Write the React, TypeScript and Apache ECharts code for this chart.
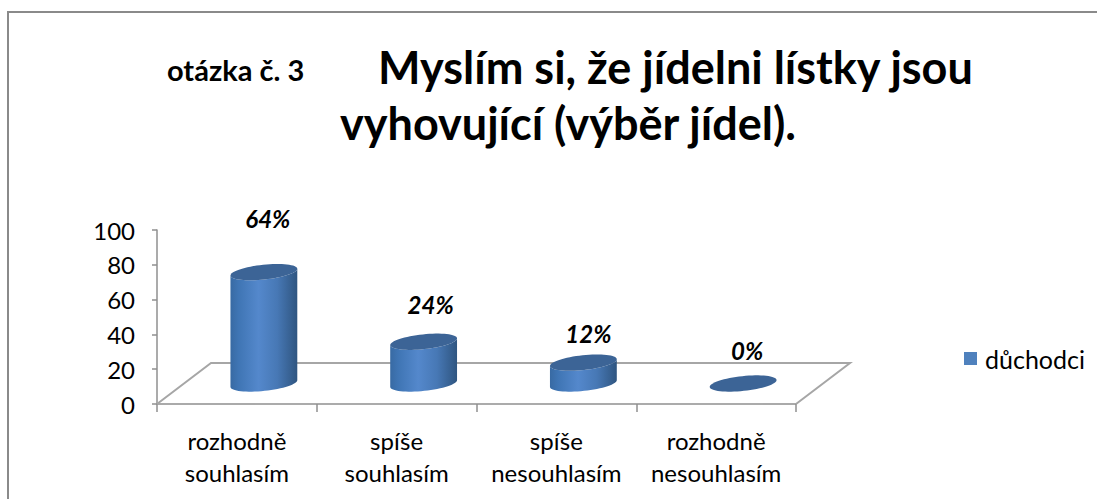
import React, { useEffect, useRef } from "react";
import * as echarts from "echarts";

const categories = ["rozhodně\nsouhlasím", "spíše\nsouhlasím", "spíše\nnesouhlasím", "rozhodně\nnesouhlasím"];
const values = [64, 24, 12, 0];
const valueLabels = ["64%", "24%", "12%", "0%"];
const seriesName = "důchodci";
const titleSmall = "otázka č. 3";
const titleLine1 = "Myslím si, že jídelni lístky jsou";
const titleLine2 = "vyhovující (výběr jídel).";
const yMax = 100;
const yInterval = 20;

const FONT = "Lato, 'Noto Sans', sans-serif";
const AXIS_GRAY = "#8f8f8f";
const DEPTH_X = 54;
const DEPTH_Y = 41;
const labelShift: [number, number][] = [[4, -54], [7, -37], [5, -29], [4, -33]];

// outline of a tilted ellipse, from the left tip to the right tip; side 1 = front (lower), -1 = back (upper)
function arcPoints(cx: number, cy: number, side: number) {
  const a = 33.6;
  const b = 7.4;
  const rad = (-6 * Math.PI) / 180;
  const pts: number[][] = [];
  for (let k = 0; k <= 32; k++) {
    const t = Math.PI - (k / 32) * Math.PI;
    const ex = a * Math.cos(t);
    const ey = side * b * Math.sin(t);
    pts.push([cx + ex * Math.cos(rad) - ey * Math.sin(rad), cy + ex * Math.sin(rad) + ey * Math.cos(rad)]);
  }
  return pts;
}

export default function App() {
  const ref = useRef<HTMLDivElement>(null);
  useEffect(() => {
    const chart = echarts.init(ref.current!, null, { renderer: "svg" });
    const bodyFill = {
      type: "linear", x: 0, y: 0, x2: 1, y2: 0,
      colorStops: [
        { offset: 0, color: "#386aa3" },
        { offset: 0.12, color: "#3f75b4" },
        { offset: 0.42, color: "#5488cc" },
        { offset: 0.7, color: "#4778b5" },
        { offset: 1, color: "#2f5580" },
      ],
    };
    chart.setOption({
      animation: false,
      backgroundColor: "#fff",
      title: [
        { text: titleSmall, left: 162, top: 50, textStyle: { fontFamily: FONT, fontSize: 29, fontWeight: "bold", color: "#000" } },
        { text: titleLine1, left: 373, top: 39, textStyle: { fontFamily: FONT, fontSize: 45, fontWeight: "bold", color: "#000" } },
        { text: titleLine2, left: 335, top: 95, textStyle: { fontFamily: FONT, fontSize: 45, fontWeight: "bold", color: "#000" } },
      ],
      legend: {
        left: 959, top: 341, itemWidth: 13, itemHeight: 13, itemGap: 0,
        icon: "rect",
        data: [seriesName],
        textStyle: { fontFamily: FONT, fontSize: 25, color: "#000", padding: [0, 0, 3, 3] },
      },
      grid: { left: 157, right: 301, top: 230, bottom: 95 },
      xAxis: {
        type: "category",
        data: categories,
        axisLine: { lineStyle: { color: AXIS_GRAY, width: 1.5 } },
        axisTick: { show: true, length: 8, alignWithLabel: false, lineStyle: { color: AXIS_GRAY, width: 1.5 } },
        axisLabel: { interval: 0, fontFamily: FONT, fontSize: 24, color: "#000", lineHeight: 32, margin: 20 },
      },
      yAxis: {
        type: "value",
        min: 0, max: yMax, interval: yInterval,
        splitLine: { show: false },
        axisLine: { show: true, lineStyle: { color: AXIS_GRAY, width: 1.5 } },
        axisTick: { show: true, length: 5, lineStyle: { color: AXIS_GRAY, width: 1.5 } },
        axisLabel: { fontFamily: FONT, fontSize: 24, color: "#000", margin: 22 },
      },
      graphic: [
        { type: "polyline", silent: true, z: -1, shape: { points: [[8, 499], [8, 12], [1097, 12]] }, style: { stroke: "#8a8a8a", lineWidth: 2, fill: "none" } },
      ],
      series: [
        {
          type: "custom",
          name: "floor",
          silent: true,
          z: 1,
          data: [[0, 0]],
          encode: { x: 0, y: 1 },
          renderItem: (_p: any, api: any) => {
            const o = api.coord([0, 0]);
            const band = api.size([1, 0])[0];
            const x0 = o[0] - band / 2;
            const x1 = x0 + band * categories.length;
            return {
              type: "polyline",
              shape: { points: [[x0, o[1]], [x0 + DEPTH_X, o[1] - DEPTH_Y], [x1 + DEPTH_X, o[1] - DEPTH_Y], [x1, o[1]]] },
              style: { stroke: "#a6a6a6", lineWidth: 2, fill: "none" },
            };
          },
        },
        {
          type: "custom",
          name: seriesName,
          z: 2,
          itemStyle: { color: "#4f81bd" },
          data: values.map((v, i) => [i, v]),
          encode: { x: 0, y: 1 },
          clip: false,
          renderItem: (p: any, api: any) => {
            const i = api.value(0);
            const v = api.value(1);
            const base = api.coord([i, 0]);
            const top = api.coord([i, v]);
            const cx = base[0] + DEPTH_X / 2;
            const by = base[1] - DEPTH_Y / 2;
            const ty0 = top[1] - DEPTH_Y / 2;
            const topFront = arcPoints(cx, ty0, 1);
            const topBack = arcPoints(cx, ty0, -1);
            const baseFront = arcPoints(cx, by, 1);
            const shift = labelShift[p.dataIndex];
            const children: any[] = [];
            if (v > 0) {
              children.push({
                type: "polygon",
                shape: { points: [...topFront, ...baseFront.slice().reverse()] },
                style: { fill: bodyFill },
              });
            }
            children.push({
              type: "polygon",
              shape: { points: [...topFront, ...topBack.slice().reverse()] },
              style: { fill: "#3c6496" },
            });
            children.push({
              type: "text",
              style: {
                x: cx + shift[0], y: ty0 + shift[1],
                text: valueLabels[p.dataIndex],
                fill: "#000",
                font: `italic bold 24px ${FONT}`,
                textAlign: "center", textVerticalAlign: "middle",
              },
            });
            return { type: "group", children };
          },
        },
      ],
    });
    return () => chart.dispose();
  }, []);
  return <div ref={ref} style={{ position: "fixed", left: 0, top: 0, width: 1097, height: 499 }} />;
}
